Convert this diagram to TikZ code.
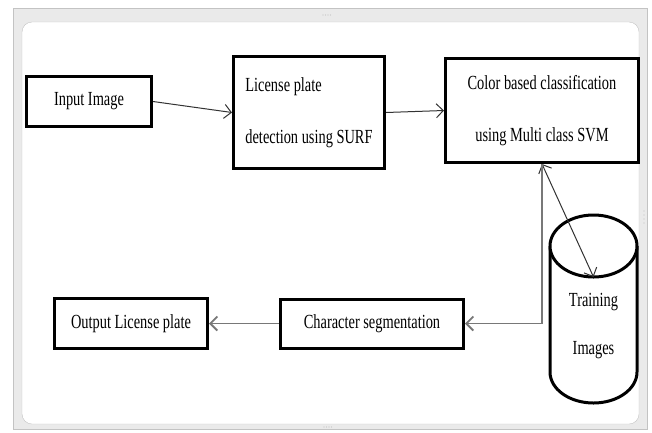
\documentclass[tikz,border=0pt]{standalone}
\usepackage{fontspec}
\setmainfont{Liberation Serif}[FakeStretch=0.72]
\usepackage{tikz}
\usetikzlibrary{shapes.geometric, arrows.meta, positioning, calc}
\definecolor{framegray}{RGB}{234,234,234}
\definecolor{edgegray}{RGB}{195,195,195}
\definecolor{linegray}{RGB}{120,120,120}

\begin{document}
\begin{tikzpicture}[x=1pt, y=-1pt,
  box/.style={draw, line width=3pt, font=\fontsize{20}{52}\selectfont, inner sep=0pt},
  link/.style={draw=black!80, line width=1pt, ->, >={Straight Barb[length=7pt,width=14pt]}}]
\useasboundingbox (0,0) rectangle (652,432);

% frame
\draw[edgegray, fill=framegray] (13,8) rectangle (647,429);
\draw[edgegray, fill=white, rounded corners=10pt] (22,22) rectangle (639,424);
\foreach \i in {0,1,2,3} {
  \fill[edgegray] (323+2.5*\i,15) circle (0.7);
  \fill[edgegray] (324+2.5*\i,427) circle (0.7);
  \fill[edgegray] (644,211+4*\i) circle (0.7);
}

% blocks
\node[box, minimum width=125, minimum height=50] (input) at (89,101.5) {Input Image};
\node[box, minimum width=151, minimum height=112, align=left] (license) at (309,112.5) {License plate\\detection using SURF};
\node[box, minimum width=193, minimum height=104, align=center] (color) at (542,110.5) {Color based classification\\using Multi class SVM};
\node[box, minimum width=183, minimum height=49] (charseg) at (372,323.5) {Character segmentation};
\node[box, minimum width=153, minimum height=50] (output) at (131,323.5) {Output License plate};

% training images store
\draw[line width=3pt] (550,246) -- (550,372) arc[start angle=180, end angle=360, x radius=43.5pt, y radius=31pt] -- (637,246);
\draw[line width=3pt, fill=white] (593.5,246) ellipse [x radius=43.5pt, y radius=31pt];
\node[font=\fontsize{20}{48}\selectfont, align=center] (train) at (593.5,326) {Training\\Images};
\coordinate (trainhit) at (593.5,277);

% flow
\draw[link] (input.east) -- (license.west);
\draw[link] (license.east) -- (color.west);
\draw[link, <->] (color.south) -- (trainhit);
\draw[link, draw=linegray, line width=1.8pt] (color.south) |- (charseg.east);
\draw[link, draw=linegray, line width=1.8pt] (charseg.west) -- (output.east);
\end{tikzpicture}
\end{document}
